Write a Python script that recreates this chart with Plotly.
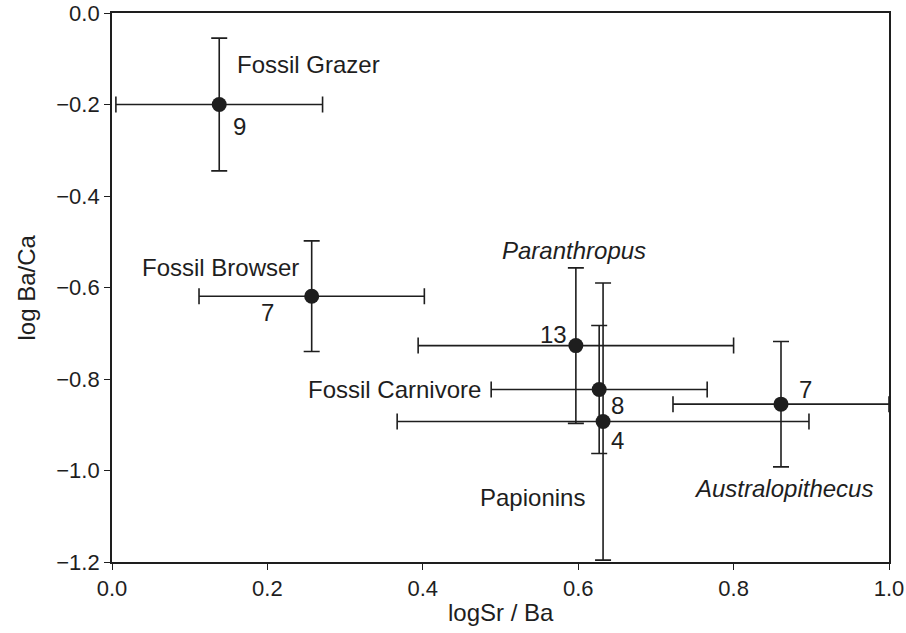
import plotly.graph_objects as go

# Data
groups = ["Fossil Grazer", "Fossil Browser", "Paranthropus", "Fossil Carnivore", "Papionins", "Australopithecus"]
log_sr_ba = [0.138, 0.257, 0.597, 0.627, 0.632, 0.861]
log_ba_ca = [-0.200, -0.619, -0.727, -0.823, -0.893, -0.855]
sr_ba_err = [0.133, 0.145, 0.203, 0.139, 0.265, 0.139]
ba_ca_err = [0.145, 0.121, 0.170, 0.140, 0.303, 0.137]
sample_n = ["9", "7", "13", "8", "4", "7"]

x_ticks = [0.0, 0.2, 0.4, 0.6, 0.8, 1.0]
y_ticks = [0.0, -0.2, -0.4, -0.6, -0.8, -1.0, -1.2]

INK = "#1e1e1e"
FONT = "Liberation Sans, Arial, sans-serif"

fig = go.Figure()
fig.add_trace(go.Scatter(
    x=log_sr_ba, y=log_ba_ca, mode="markers",
    marker=dict(size=15, color=INK),
    error_x=dict(type="data", array=sr_ba_err, visible=True, color=INK, thickness=1.6, width=8),
    error_y=dict(type="data", array=ba_ca_err, visible=True, color=INK, thickness=1.6, width=8),
    cliponaxis=False, showlegend=False, hoverinfo="skip",
))

# Label placement (style): (text, x, y, xanchor, italic)
group_labels = [
    (groups[0], 0.158, -0.112, "left", False),
    (groups[1], 0.243, -0.557, "right", False),
    (groups[2], 0.595, -0.519, "center", True),
    (groups[3], 0.478, -0.822, "right", False),
    (groups[4], 0.541, -1.058, "center", False),
    (groups[5], 0.864, -1.040, "center", True),
]
n_labels = [
    (sample_n[0], 0.153, -0.247, "left"),
    (sample_n[1], 0.200, -0.654, "center"),
    (sample_n[2], 0.588, -0.703, "right"),
    (sample_n[3], 0.651, -0.859, "center"),
    (sample_n[4], 0.651, -0.934, "center"),
    (sample_n[5], 0.893, -0.823, "center"),
]
for text, x, y, xa, it in group_labels:
    fig.add_annotation(x=x, y=y, text=f"<i>{text}</i>" if it else text, showarrow=False,
                       xanchor=xa, yanchor="middle", font=dict(size=24, color=INK, family=FONT))
for text, x, y, xa in n_labels:
    fig.add_annotation(x=x, y=y, text=text, showarrow=False,
                       xanchor=xa, yanchor="middle", font=dict(size=24, color=INK, family=FONT))

axis_common = dict(
    showgrid=False, zeroline=False, showline=True, linecolor=INK, linewidth=1.8,
    mirror=True, ticks="outside", ticklen=6, tickwidth=1.4, tickcolor=INK,
    tickfont=dict(size=22, color=INK, family=FONT), automargin=False,
    ticklabeloverflow="allow",
)
fig.update_xaxes(range=[0, 1], tickvals=x_ticks, tickformat=".1f", **axis_common)
fig.update_yaxes(range=[-1.2, 0], tickvals=y_ticks, tickformat=".1f", **axis_common)

# Axis titles
fig.add_annotation(xref="paper", yref="paper", x=0.5, y=-0.092, text="logSr / Ba",
                   showarrow=False, xanchor="center", yanchor="middle",
                   font=dict(size=24, color=INK, family=FONT))
fig.add_annotation(xref="paper", yref="paper", x=-0.1094, y=0.5, text="log Ba/Ca", textangle=-90,
                   showarrow=False, xanchor="center", yanchor="middle",
                   font=dict(size=24, color=INK, family=FONT))

fig.update_layout(
    width=906, height=633,
    margin=dict(l=112, r=17, t=13, b=71),
    paper_bgcolor="white", plot_bgcolor="white",
    font=dict(family=FONT, color=INK),
)
# remove the browser's default 8px body margin so the figure fills the window
fig.write_html("out.html", config={"displayModeBar": False},
               post_script="document.body.style.margin='0';document.body.style.overflow='hidden';")
